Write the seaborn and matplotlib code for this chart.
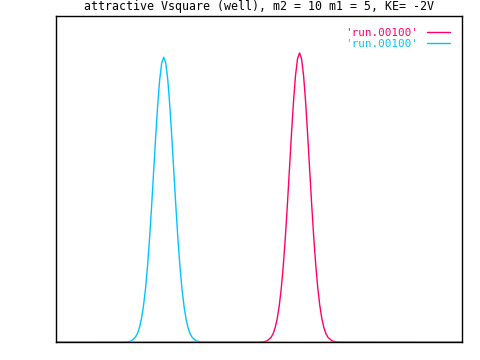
import matplotlib
matplotlib.use("Agg")
import matplotlib.pyplot as plt
import seaborn as sns
import pandas as pd

# Data (axis in arbitrary units 0..100, 0..0.4)
title = "attractive Vsquare (well), m2 = 10 m1 = 5, KE= -2V"
labels = ["'run.00100'", "'run.00100'"]

red_x = [0.0, 50.0, 51.0, 52.0, 53.0, 53.5, 54.0, 54.5, 55.0, 55.5, 56.0, 56.5, 57.0, 57.5,
         58.0, 58.5, 59.0, 59.5, 60.0, 60.5, 61.0, 61.5, 62.0, 62.5, 63.0, 63.5, 64.0,
         64.5, 65.0, 65.5, 66.0, 66.5, 67.0, 68.0, 69.0, 70.0, 100.0]
red_y = [0.0, 0.0001, 0.0004, 0.0018, 0.0062, 0.0108, 0.0181, 0.0291, 0.0450, 0.0665, 0.0947,
         0.1289, 0.1685, 0.2116, 0.2547, 0.2944, 0.3267, 0.3475, 0.3547, 0.3475, 0.3267,
         0.2944, 0.2547, 0.2116, 0.1685, 0.1289, 0.0947, 0.0665, 0.0450, 0.0291, 0.0181,
         0.0108, 0.0062, 0.0018, 0.0004, 0.0001, 0.0]

cyan_x = [0.0, 16.5, 17.5, 18.5, 19.5, 20.0, 20.5, 21.0, 21.5, 22.0, 22.5, 23.0, 23.5, 24.0,
          24.5, 25.0, 25.5, 26.0, 26.5, 27.0, 27.5, 28.0, 28.5, 29.0, 29.5, 30.0, 30.5,
          31.0, 31.5, 32.0, 32.5, 33.0, 33.5, 34.5, 35.5, 36.5, 100.0]
cyan_y = [0.0, 0.0001, 0.0004, 0.0017, 0.0061, 0.0106, 0.0178, 0.0287, 0.0444, 0.0655, 0.0933,
          0.1269, 0.1660, 0.2084, 0.2509, 0.2900, 0.3218, 0.3423, 0.3494, 0.3423, 0.3218,
          0.2900, 0.2509, 0.2084, 0.1660, 0.1269, 0.0933, 0.0655, 0.0444, 0.0287, 0.0178,
          0.0106, 0.0061, 0.0017, 0.0004, 0.0001, 0.0]

colors = ["#ff0066", "#00c4ff"]

sns.set_style("white")
plt.rcParams["font.family"] = ["DejaVu Sans Mono", "DejaVu Sans"]

fig = plt.figure(figsize=(4.8, 3.6), dpi=100)
ax = fig.add_axes([56.3 / 480, (360 - 342.3) / 360, (461.7 - 56.3) / 480, (342.3 - 16) / 360])

df_red = pd.DataFrame({"x": red_x, "y": red_y})
df_cyan = pd.DataFrame({"x": cyan_x, "y": cyan_y})
sns.lineplot(data=df_red, x="x", y="y", ax=ax, color=colors[0], lw=1.0,
             label=labels[0], sort=False, estimator=None)
sns.lineplot(data=df_cyan, x="x", y="y", ax=ax, color=colors[1], lw=1.0,
             label=labels[1], sort=False, estimator=None)

ax.set_xlim(0, 100)
ax.set_ylim(0, 0.4)
ax.set_xticks([])
ax.set_yticks([])
ax.set_xlabel("")
ax.set_ylabel("")
for s in ax.spines.values():
    s.set_color("black")
    s.set_linewidth(1.0)

ax.set_title(title, fontsize=8.4, pad=4, color="black")

leg = ax.legend(loc="upper right", frameon=False, markerfirst=False,
                labelcolor="linecolor", fontsize=7.9, handlelength=2.1,
                handletextpad=0.75, borderaxespad=0.7, labelspacing=0.1)

fig.savefig("out.png", dpi=100)
